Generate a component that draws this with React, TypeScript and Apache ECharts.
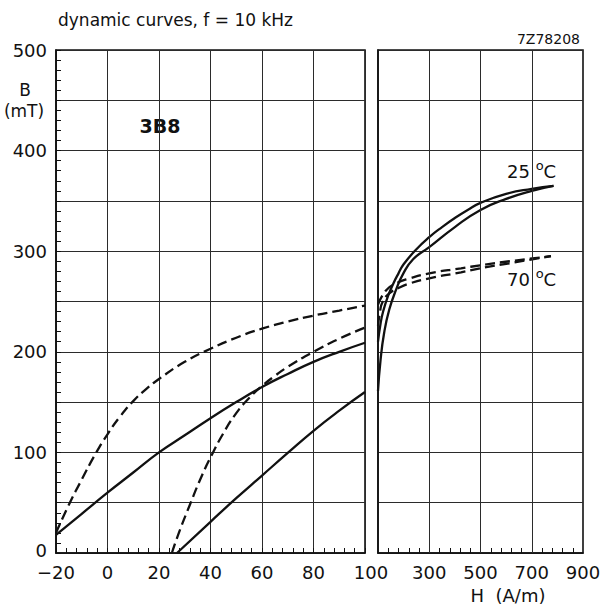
import { useEffect, useRef } from "react";
import * as echarts from "echarts";

// Flux density B (mT) versus field strength H (A/m), 3B8 ferrite, f = 10 kHz.
// Low-field panel: H from -20 to 100 A/m.
const hDesc25Low = [-20, -10, 0, 10, 20, 30, 40, 50, 60, 70, 80, 90, 100];
const bDesc25Low = [18, 39, 60, 80, 100, 117, 134, 150, 165, 178, 190, 200, 209];
const hAsc25Low = [27, 40, 50, 60, 70, 80, 90, 100];
const bAsc25Low = [0, 31, 54.5, 77, 99.5, 121.5, 141.5, 160];
const hDesc70Low = [-20, -15, -10, -5, 0, 5, 10, 15, 20, 30, 40, 50, 60, 70, 80, 90, 100];
const bDesc70Low = [20, 48, 73, 97, 118, 136, 151, 163, 173, 190, 203, 214, 223, 230, 236, 241, 246];
const hAsc70Low = [25, 28, 32, 36, 40, 45, 50, 55, 60, 65, 70, 80, 90, 100];
const bAsc70Low = [0, 22, 48, 73, 95, 119, 139, 154, 166, 176, 185, 200, 213, 224];

// High-field panel: H from 100 to 900 A/m.
const hDesc25High = [100, 110, 120, 140, 160, 180, 200, 250, 300, 350, 400, 450, 500, 600, 700, 785];
const bDesc25High = [210, 228, 240, 256, 268, 278, 287, 302, 314, 324, 333, 341, 348, 357, 362, 365];
const hAsc25High = [100, 110, 124, 144, 171, 197, 237, 300, 400, 500, 600, 700, 785];
const bAsc25High = [161, 192, 219, 242, 262, 277, 292, 304, 324, 341, 352, 360, 365];
const hDesc70High = [100, 131, 171, 224, 300, 424, 500, 613, 775];
const bDesc70High = [247, 261, 268, 273, 278, 283, 286, 290, 295];
const hAsc70High = [100, 108, 117, 144, 184, 224, 300, 424, 500, 613, 775];
const bAsc70High = [226, 240, 249, 258, 264, 268, 273, 279, 283, 288, 295];

// Axis ticks of the high-field panel
const highLabelValues = [300, 500, 700, 900];
const highGridValues = [300, 500, 700];
const highTickValues = [140, 180, 220, 260, 340, 380, 420, 460, 540, 580, 620, 660, 740, 780, 820, 860];

const titleText = "dynamic curves, f = 10 kHz";
const drawingCode = "7Z78208";
const gradeText = "3B8";

const ink = "#111";
const gridInk = "#2b2b2b";
const face = "DejaVu Sans";

const zip = (h: number[], b: number[]) => h.map((v, i) => [v, b[i]]);

const curve = (h: number[], b: number[], dashed: boolean, panel: number, extra: any = {}) => ({
  type: "line",
  xAxisIndex: panel,
  yAxisIndex: panel,
  data: zip(h, b),
  showSymbol: false,
  symbol: "none",
  smooth: 0.5,
  clip: true,
  silent: true,
  z: 3,
  lineStyle: { color: ink, width: 2.3, type: dashed ? [10, 5] : "solid" },
  emphasis: { disabled: true },
  ...extra,
});

const axisFont = { fontFamily: face, fontSize: 18, lineHeight: 16, color: ink };

const label = (text: string, x: number, y: number, size: number, extra: any = {}) => ({
  type: "text",
  x,
  y,
  silent: true,
  style: {
    text,
    fontFamily: face,
    fontSize: size,
    lineHeight: size - 2,
    fill: ink,
    textAlign: "center",
    textVerticalAlign: "middle",
    align: "center",
    verticalAlign: "middle",
    ...extra,
  },
});

export default function App() {
  const ref = useRef<HTMLDivElement>(null);

  useEffect(() => {
    if (!ref.current) return;
    const chart = echarts.init(ref.current, null, { renderer: "svg" });

    const gridBase = {
      top: 50,
      bottom: 53,
      show: true,
      borderColor: ink,
      borderWidth: 1.6,
      backgroundColor: "transparent",
      containLabel: false,
      outerBoundsMode: "none",
    };

    const axisLine = { show: true, onZero: false, lineStyle: { color: ink, width: 1.6 } };

    const option: any = {
      animation: false,
      backgroundColor: "#fff",
      grid: [
        { ...gridBase, left: 56, right: 250 },
        { ...gridBase, left: 378, right: 32 },
      ],
      xAxis: [
        {
          gridIndex: 0,
          type: "value",
          min: -20,
          max: 100,
          interval: 20,
          axisLine,
          axisTick: { show: true, inside: true, length: 5, lineStyle: { color: ink, width: 1 } },
          minorTick: { show: true, splitNumber: 5, length: 5, lineStyle: { color: ink, width: 1 } },
          splitLine: { show: true, lineStyle: { color: gridInk, width: 1 } },
          axisLabel: {
            ...axisFont,
            margin: 11,
            showMinLabel: true,
            showMaxLabel: true,
            hideOverlap: false,
            formatter: (v: number) =>
              v === 100 ? "{shift|100}" : v < 0 ? `\u2212${-v}` : `${v}`,
            rich: { shift: { ...axisFont, padding: [0, 0, 0, 12] } },
          },
        },
        {
          gridIndex: 1,
          type: "value",
          min: 100,
          max: 900,
          axisLine,
          axisTick: {
            show: true,
            inside: true,
            length: 5,
            customValues: highTickValues,
            lineStyle: { color: ink, width: 1 },
          },
          splitLine: { show: false },
          axisLabel: {
            ...axisFont,
            margin: 11,
            customValues: highLabelValues,
            showMinLabel: true,
            showMaxLabel: true,
            hideOverlap: false,
          },
        },
      ],
      yAxis: [
        {
          gridIndex: 0,
          type: "value",
          min: 0,
          max: 500,
          interval: 50,
          axisLine,
          axisTick: { show: true, inside: true, length: 5, lineStyle: { color: ink, width: 1 } },
          minorTick: { show: true, splitNumber: 5, length: 5, lineStyle: { color: ink, width: 1 } },
          splitLine: { show: true, lineStyle: { color: gridInk, width: 1 } },
          axisLabel: {
            ...axisFont,
            margin: 9,
            showMinLabel: true,
            showMaxLabel: true,
            hideOverlap: false,
            formatter: (v: number) => (v === 0 ? "{low|0}" : v % 100 === 0 ? `${v}` : ""),
            rich: { low: { ...axisFont, padding: [0, 0, 5, 0] } },
          },
        },
        {
          gridIndex: 1,
          type: "value",
          min: 0,
          max: 500,
          interval: 50,
          axisLine,
          axisTick: { show: false },
          axisLabel: { show: false },
          splitLine: { show: true, lineStyle: { color: gridInk, width: 1 } },
        },
      ],
      series: [
        curve(hDesc25Low, bDesc25Low, false, 0),
        curve(hAsc25Low, bAsc25Low, false, 0),
        curve(hDesc70Low, bDesc70Low, true, 0),
        curve(hAsc70Low, bAsc70Low, true, 0),
        curve(hDesc25High, bDesc25High, false, 1, {
          markLine: {
            silent: true,
            symbol: ["none", "none"],
            label: { show: false },
            emphasis: { disabled: true },
            lineStyle: { color: gridInk, width: 1, type: "solid" },
            data: highGridValues.map((v) => ({ xAxis: v })),
          },
        }),
        curve(hAsc25High, bAsc25High, false, 1),
        curve(hDesc70High, bDesc70High, true, 1),
        curve(hAsc70High, bAsc70High, true, 1),
      ],
      graphic: [
        label(titleText, 58, 20, 17, { textAlign: "left", align: "left" }),
        label(drawingCode, 580, 38.5, 14, { textAlign: "right", align: "right" }),
        label("B", 25, 90, 17),
        label("(mT)", 24, 110.5, 17),
        label(gradeText, 160, 126, 19, { fontWeight: "bold" }),
        ...[
          { t: "25", y: 171 },
          { t: "70", y: 279 },
        ].map((d) => ({
          type: "text",
          x: 507,
          y: d.y,
          silent: true,
          style: {
            text: `{n|${d.t} }{o|o}{n|C}`,
            fill: ink,
            textAlign: "left",
            textVerticalAlign: "middle",
            align: "left",
            verticalAlign: "middle",
            rich: {
              n: { fontFamily: face, fontSize: 18, lineHeight: 24, verticalAlign: "middle", fill: ink },
              o: { fontFamily: face, fontSize: 13, lineHeight: 13, verticalAlign: "top", fill: ink },
            },
          },
        })),
        label("H  (A/m)", 508, 595, 18),
      ],
    };

    chart.setOption(option);
    return () => chart.dispose();
  }, []);

  return (
    <div
      ref={ref}
      style={{ position: "absolute", left: 0, top: 0, width: 615, height: 606, background: "#fff" }}
    />
  );
}
